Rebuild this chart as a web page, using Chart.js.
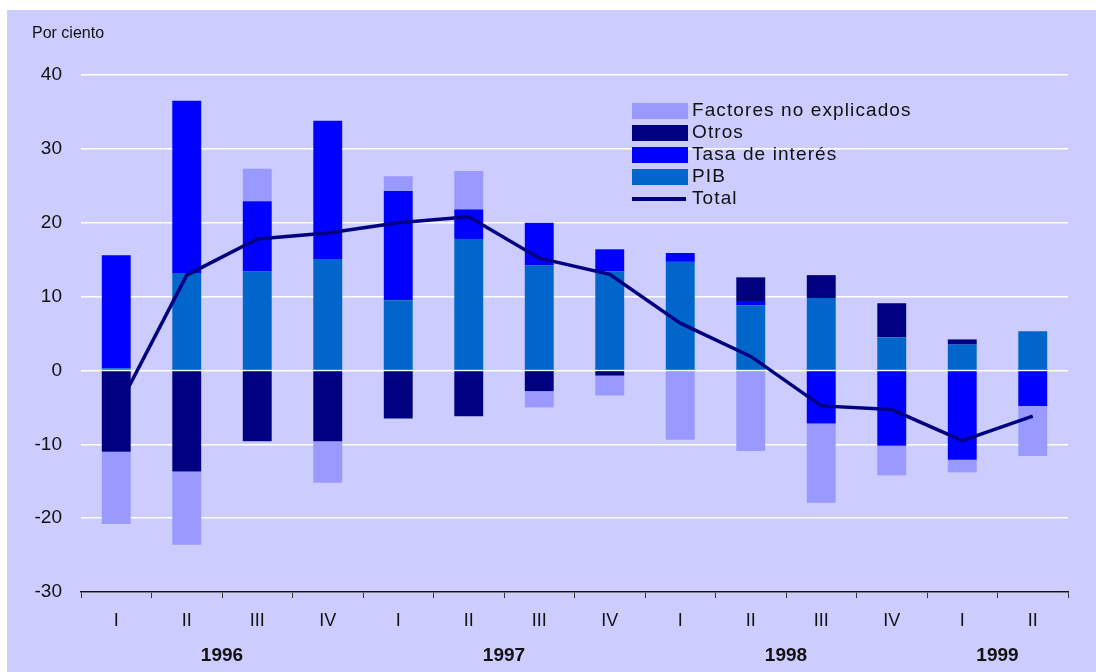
<!DOCTYPE html>
<html>
<head>
<meta charset="utf-8">
<script src="https://cdn.jsdelivr.net/npm/chart.js"></script>
<style>
    body { margin: 0; background: #fff; font-family: "Liberation Sans", Arial, sans-serif; }
    #wrap { position: absolute; left: 7px; top: 10px; width: 1089px; height: 662px; background: #ccccff; }
    #legend { position: absolute; left: 625px; top: 92px; }
    .item { position: relative; height: 22px; }
    .box { position: absolute; left: 0; top: 1px; width: 56px; height: 16px; }
    .dash { position: absolute; left: 0; top: 7px; width: 54px; height: 4px; }
    .txt { position: absolute; left: 60px; top: -3px; font-size: 19px; letter-spacing: 1.1px; color: #111; white-space: nowrap; }
</style>
</head>
<body>
<div id="wrap">
    <canvas id="chart"></canvas>
    <div id="legend"></div>
</div>
<script>
// data
var quarters = ['I', 'II', 'III', 'IV', 'I', 'II', 'III', 'IV', 'I', 'II', 'III', 'IV', 'I', 'II'];
var years = ['1996', '1997', '1998', '1999'];
var pib = [0.3, 13.2, 13.4, 15.1, 9.5, 17.8, 14.2, 13.4, 14.7, 8.8, 9.8, 4.5, 3.5, 5.3];
var tasa = [15.3, 23.3, 9.5, 18.7, 14.8, 4.0, 5.8, 3.0, 1.2, 0.6, -7.2, -10.2, -12.1, -4.8];
var otros = [-11.0, -13.7, -9.6, -9.6, -6.5, -6.2, -2.8, -0.7, 0, 3.2, 3.1, 4.6, 0.7, 0];
var factores = [-9.8, -9.9, 4.4, -5.6, 2.0, 5.2, -2.2, -2.7, -9.4, -10.9, -10.7, -4.0, -1.7, -6.8];
var total = [-5.5, 12.9, 17.8, 18.6, 20.0, 20.8, 15.2, 13.0, 6.4, 1.9, -4.8, -5.3, -9.5, -6.2];

var FONT = '"Liberation Sans", Arial, sans-serif';

// extra text: unit label and year row under the quarters
var extraText = {
    id: 'extraText',
    afterDraw: function (chart) {
        var c = chart.ctx;
        var x = chart.scales.x;
        c.save();
        c.fillStyle = '#111';
        c.font = '16px ' + FONT;
        c.textAlign = 'left';
        c.textBaseline = 'alphabetic';
        c.fillText('Por ciento', 25, 28);
        c.font = 'bold 19px ' + FONT;
        c.textAlign = 'center';
        c.textBaseline = 'middle';
        years.forEach(function (y, i) {
            var first = i * 4;
            var last = Math.min(first + 3, quarters.length - 1);
            var mid = (x.getPixelForValue(first) + x.getPixelForValue(last)) / 2;
            c.fillText(y, mid, 646);
        });
        c.restore();
    }
};

var ctx = document.getElementById('chart').getContext('2d');
var chart = new Chart(ctx, {
    type: 'bar',
    data: {
        labels: quarters,
        datasets: [
            { type: 'line', label: 'Total', data: total, borderColor: '#000080', backgroundColor: '#000080',
              borderWidth: 3.5, pointRadius: 0, tension: 0, order: 0, stack: 'total' },
            { label: 'PIB', data: pib, backgroundColor: '#0066cc', order: 1 },
            { label: 'Tasa de interés', data: tasa, backgroundColor: '#0000ff', order: 1 },
            { label: 'Otros', data: otros, backgroundColor: '#000080', order: 1 },
            { label: 'Factores no explicados', data: factores, backgroundColor: '#9999ff', order: 1 }
        ]
    },
    options: {
        responsive: true,
        maintainAspectRatio: false,
        animation: false,
        layout: { padding: { top: 65, right: 28, bottom: 0, left: 0 } },
        datasets: { bar: { categoryPercentage: 1, barPercentage: 0.41 } },
        plugins: { legend: { display: false }, tooltip: { enabled: false } },
        scales: {
            x: {
                stacked: true,
                afterFit: function (s) { s.height = 80; },
                grid: { offset: true, drawOnChartArea: false, drawTicks: true, tickLength: 6, color: '#333', lineWidth: 1 },
                border: { display: true, color: '#111', width: 1.5 },
                ticks: { color: '#111', font: { family: FONT, size: 18 }, padding: 12, autoSkip: false, maxRotation: 0 }
            },
            y: {
                stacked: true,
                min: -30,
                max: 40,
                afterFit: function (s) { s.width = 74; },
                grid: { color: '#ffffff', lineWidth: 1.5, drawTicks: false },
                border: { display: false },
                ticks: { stepSize: 10, color: '#111', font: { family: FONT, size: 19 }, padding: 19 }
            }
        }
    },
    plugins: [extraText]
});

// html legend, built from the datasets in reverse order
var legend = document.getElementById('legend');
chart.data.datasets.slice().reverse().forEach(function (ds) {
    var mark = ds.type === 'line'
        ? '<span class="dash" style="background:' + ds.borderColor + '"></span>'
        : '<span class="box" style="background:' + ds.backgroundColor + '"></span>';
    legend.innerHTML += '<div class="item">' + mark + '<span class="txt">' + ds.label + '</span></div>';
});
</script>
</body>
</html>
